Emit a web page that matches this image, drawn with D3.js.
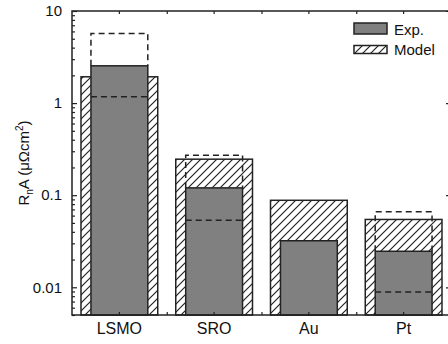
<!DOCTYPE html>
<html>
<head>
<meta charset="utf-8">
<script src="https://cdn.jsdelivr.net/npm/d3@7"></script>
<style>
  body { margin: 0; background: #fff; }
  svg { display: block; font-family: 'Liberation Sans', Arial, sans-serif; }
  .axis .domain { display: none; }
  .axis line { stroke: #222; stroke-width: 1.2; }
  .axis text { fill: #111; }
</style>
</head>
<body>
<div id="chart"></div>
<script>
const categories = ['LSMO', 'SRO', 'Au', 'Pt'];
const expValues = [2.54, 0.12, 0.032, 0.0246];
const modelValues = [1.93, 0.246, 0.088, 0.0545];
const expUpper = [5.7, 0.272, null, 0.066];
const expLower = [1.17, 0.0535, null, 0.0089];
const yTicks = [0.01, 0.1, 1, 10];
const legendLabels = ['Exp.', 'Model'];

const width = 448;
const height = 344;
const plot = { left: 72, right: 451, top: 11, bottom: 315 };
const ink = '#222';
const grey = '#808080';

const svg = d3
  .select('#chart')
  .append('svg')
  .attr('width', width)
  .attr('height', height);

svg
  .append('defs')
  .append('pattern')
  .attr('id', 'hatch')
  .attr('patternUnits', 'userSpaceOnUse')
  .attr('width', 8)
  .attr('height', 8)
  .append('path')
  .attr('d', 'M-2,2 L2,-2 M0,8 L8,0 M6,10 L10,6')
  .attr('stroke', ink)
  .attr('stroke-width', 1.2);

const x = d3
  .scaleBand()
  .domain(categories)
  .range([plot.left, plot.right])
  .padding(0);

const y = d3
  .scaleLog()
  .domain([0.005, 10])
  .range([plot.bottom, plot.top]);

const bw = x.bandwidth();
const modelW = bw * 0.81;
const expW = bw * 0.6;

// minor ticks 2..9 per decade
const minorTicks = [];
[0.001, 0.01, 0.1, 1].forEach(d => {
  for (let k = 2; k <= 9; k++) {
    const v = d * k;
    if (v >= 0.005 && v <= 10) minorTicks.push(v);
  }
});

const data = categories.map((c, i) => ({
  name: c,
  exp: expValues[i],
  model: modelValues[i],
  upper: expUpper[i],
  lower: expLower[i]
}));

const bars = svg.append('g').attr('class', 'bars');

// model bars (hatched)
bars
  .selectAll('rect.model')
  .data(data)
  .join('rect')
  .attr('class', 'model')
  .attr('x', d => x(d.name) + (bw - modelW) / 2)
  .attr('width', modelW)
  .attr('y', d => y(d.model))
  .attr('height', d => plot.bottom - y(d.model))
  .attr('fill', 'url(#hatch)')
  .attr('stroke', ink)
  .attr('stroke-width', 1.5);

// experimental bars (grey)
bars
  .selectAll('rect.exp')
  .data(data)
  .join('rect')
  .attr('class', 'exp')
  .attr('x', d => x(d.name) + (bw - expW) / 2)
  .attr('width', expW)
  .attr('y', d => y(d.exp))
  .attr('height', d => plot.bottom - y(d.exp))
  .attr('fill', grey)
  .attr('stroke', ink)
  .attr('stroke-width', 1.5);

// dashed range of experimental values
const dashed = bars
  .selectAll('g.range')
  .data(data.filter(d => d.upper != null))
  .join('g')
  .attr('class', 'range')
  .attr('fill', 'none')
  .attr('stroke', ink)
  .attr('stroke-width', 1.5)
  .attr('stroke-dasharray', '6,4');

dashed
  .append('path')
  .attr('d', d => {
    const x0 = x(d.name) + (bw - expW) / 2;
    const x1 = x0 + expW;
    return `M${x0},${y(d.exp)} V${y(d.upper)} H${x1} V${y(d.exp)}`;
  });

dashed
  .append('path')
  .attr('d', d => {
    const x0 = x(d.name) + (bw - expW) / 2;
    return `M${x0},${y(d.lower)} H${x0 + expW}`;
  });

// axes
const fmt = d => (d >= 1 ? d3.format('d')(d) : String(d));

svg
  .append('g')
  .attr('class', 'axis')
  .attr('transform', `translate(${plot.left},0)`)
  .call(d3.axisLeft(y).tickValues(yTicks).tickSizeInner(-5).tickSizeOuter(0).tickPadding(10).tickFormat(fmt))
  .call(g => g.selectAll('text').attr('font-size', 15));

svg
  .append('g')
  .attr('class', 'axis')
  .attr('transform', `translate(${plot.left},0)`)
  .call(d3.axisLeft(y).tickValues(minorTicks).tickSizeInner(-3).tickSizeOuter(0).tickFormat(''));

svg
  .append('g')
  .attr('class', 'axis')
  .attr('transform', `translate(${plot.right},0)`)
  .call(d3.axisRight(y).tickValues(yTicks).tickSizeInner(-5).tickSizeOuter(0).tickFormat(''));

svg
  .append('g')
  .attr('class', 'axis')
  .attr('transform', `translate(${plot.right},0)`)
  .call(d3.axisRight(y).tickValues(minorTicks).tickSizeInner(-3).tickSizeOuter(0).tickFormat(''));

const xb = d3.scaleLinear().domain([0, categories.length]).range(x.range());
const between = d3.range(1, categories.length);

svg
  .append('g')
  .attr('class', 'axis')
  .attr('transform', `translate(0,${plot.bottom})`)
  .call(d3.axisBottom(x).tickSizeInner(-3).tickSizeOuter(0).tickPadding(8))
  .call(g => g.selectAll('text').attr('font-size', 16));

svg
  .append('g')
  .attr('class', 'axis')
  .attr('transform', `translate(0,${plot.bottom})`)
  .call(d3.axisBottom(xb).tickValues(between).tickSizeInner(-3).tickSizeOuter(0).tickFormat(''));

svg
  .append('g')
  .attr('class', 'axis')
  .attr('transform', `translate(0,${plot.top})`)
  .call(d3.axisTop(x).tickSizeInner(-3).tickSizeOuter(0).tickFormat(''));

svg
  .append('g')
  .attr('class', 'axis')
  .attr('transform', `translate(0,${plot.top})`)
  .call(d3.axisTop(xb).tickValues(between).tickSizeInner(-3).tickSizeOuter(0).tickFormat(''));

// frame
svg
  .append('rect')
  .attr('x', plot.left)
  .attr('y', plot.top)
  .attr('width', plot.right - plot.left)
  .attr('height', plot.bottom - plot.top)
  .attr('fill', 'none')
  .attr('stroke', ink)
  .attr('stroke-width', 1.5);

// y title
const title = svg
  .append('text')
  .attr('transform', 'translate(29,163) rotate(-90)')
  .attr('text-anchor', 'middle')
  .attr('font-size', 15)
  .attr('fill', '#111');
title.append('tspan').text('R');
title.append('tspan').attr('font-size', 10).attr('dy', 4).text('n');
title.append('tspan').attr('dy', -4).text('A (\u03bc\u03a9cm');
title.append('tspan').attr('font-size', 10).attr('dy', -6).text('2');
title.append('tspan').attr('dy', 6).text(')');

// legend
const legend = svg.append('g').attr('class', 'legend');
const swatches = [
  { fill: grey, y: 23, h: 11 },
  { fill: 'url(#hatch)', y: 45.5, h: 8 }
];
legend
  .selectAll('rect')
  .data(legendLabels)
  .join('rect')
  .attr('x', 354)
  .attr('y', (d, i) => swatches[i].y)
  .attr('width', 33)
  .attr('height', (d, i) => swatches[i].h)
  .attr('fill', (d, i) => swatches[i].fill)
  .attr('stroke', ink)
  .attr('stroke-width', 1.5);
legend
  .selectAll('text')
  .data(legendLabels)
  .join('text')
  .attr('x', 394)
  .attr('y', (d, i) => [35, 55][i])
  .attr('font-size', 15)
  .attr('fill', '#111')
  .text(d => d);
</script>
</body>
</html>
